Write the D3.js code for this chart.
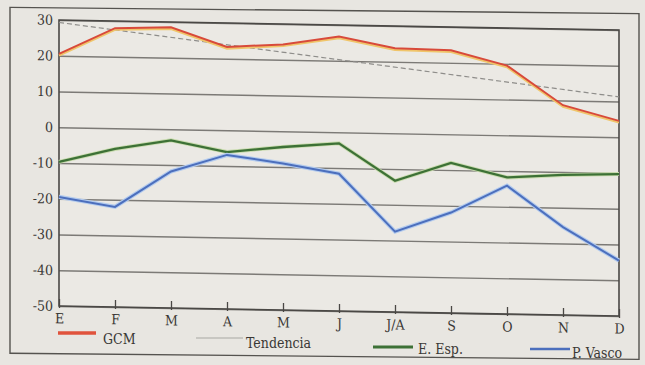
<!DOCTYPE html>
<html><head><meta charset="utf-8">
<script src="https://cdn.jsdelivr.net/npm/d3@7"></script>
<style>
body{margin:0;background:#e8e6e1;}
svg{display:block;}
</style></head>
<body>
<svg id="chart" width="645" height="365"></svg>
<script>
// ---- data ----
const months = ["E","F","M","A","M","J","J/A","S","O","N","D"];
const gcm     = [20.5, 28, 28.5, 23.3, 24.3, 26.8, 23.8, 23.5, 19.5, 8.7, 4.6];
const eEsp    = [-9.7, -5.8, -3.1, -6.1, -4.4, -3.1, -13.3, -8.0, -11.8, -10.8, -10.3];
const pVasco  = [-19.5, -22, -11.8, -6.9, -9, -11.6, -27.5, -21.9, -14.1, -25.4, -34.5];
const tendIdx = [0, 10];
const tendVal = [29.3, 11.3];
const yTicks  = [30, 20, 10, 0, -10, -20, -30, -40, -50];
const legendLabels = ["GCM", "Tendencia", "E. Esp.", "P. Vasco"];

const FONT = '"DejaVu Serif Condensed","DejaVu Serif","Liberation Serif",serif';
const svg = d3.select("#chart");

// outer frame (slightly skewed like the scanned page)
const frame = svg.append("g")
  .attr("transform", "translate(0," + (-0.0098 * 324.5) + ") matrix(1,0.0098,0,1,0,0)");
frame.append("rect")
  .attr("x", 10).attr("y", 10.5).attr("width", 629).attr("height", 345.8)
  .attr("fill", "none").attr("stroke", "#55534f").attr("stroke-width", 1.4);

// chart group, skewed like the photographed page
const s = 0.018, cx = 338.5;
const g = svg.append("g")
  .attr("transform", "matrix(1," + s + ",0,1,0," + (-s * cx) + ")");

const L = 59, R = 619, T = 25, B = 311;
const x = d3.scalePoint().domain(d3.range(months.length)).range([L, R]);
const y = d3.scaleLinear().domain([-50, 30]).range([B, T]);

g.append("rect").attr("x", L).attr("y", T).attr("width", R - L).attr("height", B - T)
  .attr("fill", "#ebe9e4");

// y axis with gridlines
const yAxis = g.append("g").attr("transform", "translate(" + L + ",0)")
  .call(d3.axisLeft(y).tickValues(yTicks).tickSize(-(R - L)).tickPadding(6)
    .tickFormat(d => String(d).replace("\u2212", "-")));
yAxis.attr("font-family", FONT).attr("font-size", 14);
yAxis.select(".domain").remove();
yAxis.selectAll(".tick line").attr("stroke", "#7c7a76").attr("stroke-width", 1.4);
yAxis.selectAll(".tick text").attr("fill", "#3a3835");

// x axis
const xAxis = g.append("g").attr("transform", "translate(0," + B + ")")
  .call(d3.axisBottom(x).tickSizeInner(-7).tickSizeOuter(0).tickPadding(7.5).tickFormat(i => months[i]));
xAxis.attr("font-family", FONT).attr("font-size", 14);
xAxis.select(".domain").remove();
xAxis.selectAll(".tick line").attr("stroke", "#4a4845").attr("stroke-width", 1.3)
  .attr("y2", -7).attr("y1", 2);
xAxis.selectAll(".tick text").attr("fill", "#3a3835");

// plot border
g.append("rect").attr("x", L).attr("y", T).attr("width", R - L).attr("height", B - T)
  .attr("fill", "none").attr("stroke", "#4a4845").attr("stroke-width", 1.6);

const line = d3.line().x((d, i) => x(i)).y(d => y(d));

// trend (dashed)
g.append("path")
  .attr("d", d3.line().x(d => x(d[0])).y(d => y(d[1]))(tendIdx.map((d, i) => [d, tendVal[i]])))
  .attr("fill", "none").attr("stroke", "#8e8d8a").attr("stroke-width", 1.2)
  .attr("stroke-dasharray", "5,3");

// E. Esp.
g.append("path").attr("d", line(eEsp)).attr("fill", "none")
  .attr("stroke", "#c9dcae").attr("stroke-width", 4);
g.append("path").attr("d", line(eEsp)).attr("fill", "none")
  .attr("stroke", "#3d7136").attr("stroke-width", 2.3);

// P. Vasco
g.append("path").attr("d", line(pVasco)).attr("fill", "none")
  .attr("stroke", "#b3cbee").attr("stroke-width", 4.2);
g.append("path").attr("d", line(pVasco)).attr("fill", "none")
  .attr("stroke", "#4c6fbd").attr("stroke-width", 2);

// GCM (red with yellow misregistration)
g.append("path").attr("d", line(gcm)).attr("fill", "none")
  .attr("transform", "translate(0,1.6)")
  .attr("stroke", "#f0c56a").attr("stroke-width", 2.2);
g.append("path").attr("d", line(gcm)).attr("fill", "none")
  .attr("stroke", "#d84a3a").attr("stroke-width", 2);

// legend
const legend = [
  {lx1: 58,  lx2: 96,  ly: 333, tx: 103, ty: 344, color: "#e0533c", w: 3.4},
  {lx1: 196, lx2: 243, ly: 338, tx: 246, ty: 348, color: "#a8a7a3", w: 1.2},
  {lx1: 373, lx2: 413, ly: 347, tx: 418, ty: 354, color: "#3d7136", w: 3},
  {lx1: 530, lx2: 570, ly: 349, tx: 572, ty: 358, color: "#4c6fbd", w: 2.6}
];
const lg = svg.append("g").selectAll("g").data(legend).join("g");
lg.append("line")
  .attr("x1", d => d.lx1).attr("x2", d => d.lx2)
  .attr("y1", d => d.ly).attr("y2", d => d.ly)
  .attr("stroke", d => d.color).attr("stroke-width", d => d.w);
lg.append("text")
  .attr("x", d => d.tx).attr("y", d => d.ty)
  .attr("font-size", 14)
  .attr("font-family", FONT)
  .attr("fill", "#3a3835")
  .text((d, i) => legendLabels[i]);
</script>
</body></html>
